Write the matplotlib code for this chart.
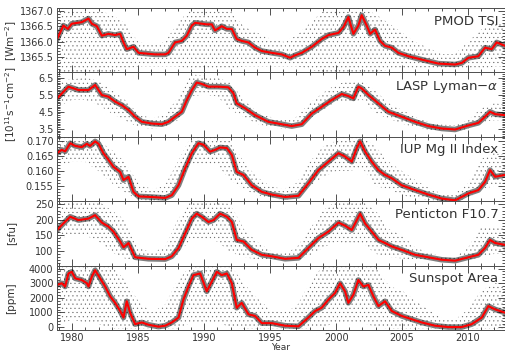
import numpy as np
import matplotlib
matplotlib.use("Agg")
import matplotlib.pyplot as plt
from matplotlib.ticker import MultipleLocator, FormatStrFormatter

# Smoothed (red) curves
tsiYears = [1978.86, 1979.34, 1979.67, 1979.97, 1980.73, 1981.24, 1981.49, 1981.87, 1982.25, 1982.75,
	1983.26, 1983.64, 1983.89, 1984.14, 1984.65, 1985.03, 1986.29, 1987.05, 1987.3, 1987.8,
	1988.31, 1988.69, 1989.07, 1989.32, 1990.2, 1990.58, 1990.83, 1991.34, 1991.72, 1992.1,
	1992.47, 1992.85, 1993.36, 1993.86, 1994.37, 1995.13, 1995.88, 1996.52, 1996.89, 1997.4,
	1998.16, 1998.91, 1999.42, 2000.18, 2000.56, 2000.93, 2001.31, 2001.69, 2001.94, 2002.32,
	2002.58, 2002.95, 2003.33, 2003.71, 2004.22, 2004.72, 2005.48, 2006.49, 2007.75, 2009.02,
	2009.52, 2010.03, 2010.78, 2011.29, 2011.79, 2012.17, 2012.8]
tsiValues = [1366.09, 1366.53, 1366.42, 1366.59, 1366.64, 1366.76, 1366.59, 1366.51, 1366.2, 1366.26,
	1366.22, 1366.26, 1365.98, 1365.76, 1365.84, 1365.64, 1365.59, 1365.59, 1365.64, 1365.98,
	1366.03, 1366.2, 1366.53, 1366.62, 1366.57, 1366.57, 1366.37, 1366.51, 1366.42, 1366.42,
	1366.09, 1366.03, 1365.98, 1365.81, 1365.7, 1365.64, 1365.59, 1365.48, 1365.56, 1365.64,
	1365.84, 1366.09, 1366.22, 1366.29, 1366.48, 1366.81, 1366.26, 1366.53, 1366.87, 1366.53,
	1366.26, 1366.4, 1366.03, 1365.87, 1365.81, 1365.64, 1365.53, 1365.42, 1365.29, 1365.26,
	1365.31, 1365.48, 1365.53, 1365.81, 1365.76, 1365.98, 1365.87]

lymanYears = [1978.86, 1979.72, 1980.48, 1981.24, 1981.74, 1982.25, 1982.75, 1983.26, 1983.76, 1984.27,
	1984.77, 1985.28, 1986.04, 1986.79, 1987.3, 1987.8, 1988.31, 1988.69, 1989.07, 1989.44,
	1989.82, 1990.33, 1991.09, 1991.84, 1992.22, 1992.47, 1993.11, 1993.86, 1994.87, 1995.88,
	1996.64, 1997.4, 1998.16, 1998.91, 1999.67, 2000.43, 2000.93, 2001.31, 2001.69, 2001.94,
	2002.45, 2003.21, 2003.96, 2004.97, 2005.98, 2006.99, 2008.0, 2009.02, 2010.03, 2010.78,
	2011.29, 2011.67, 2012.05, 2012.8]
lymanValues = [5.28, 5.97, 5.77, 5.77, 6.07, 5.48, 5.38, 5.09, 4.89, 4.60,
	4.21, 3.91, 3.81, 3.77, 3.91, 4.21, 4.5, 5.19, 5.77, 6.21,
	6.13, 5.97, 5.97, 5.93, 5.58, 4.99, 4.7, 4.3, 3.91, 3.77,
	3.66, 3.77, 4.4, 4.79, 5.19, 5.54, 5.42, 5.28, 5.97, 5.87,
	5.48, 4.99, 4.5, 4.21, 3.91, 3.66, 3.52, 3.46, 3.70, 3.85,
	4.21, 4.5, 4.36, 4.30]

mgYears = [1978.86, 1979.21, 1979.47, 1979.85, 1980.23, 1980.73, 1981.11, 1981.36, 1981.74, 1982.0,
	1982.37, 1982.75, 1983.13, 1983.64, 1983.89, 1984.27, 1984.65, 1985.03, 1986.04, 1987.05,
	1987.55, 1988.06, 1988.56, 1989.07, 1989.57, 1989.95, 1990.45, 1990.83, 1991.21, 1991.72,
	1992.1, 1992.47, 1992.98, 1993.61, 1994.37, 1995.13, 1996.14, 1997.15, 1997.9, 1998.66,
	1999.42, 2000.18, 2000.68, 2001.19, 2001.57, 2001.82, 2002.2, 2002.7, 2003.21, 2003.71,
	2004.22, 2004.97, 2005.98, 2006.99, 2008.0, 2009.02, 2010.03, 2010.78, 2011.29, 2011.67,
	2012.05, 2012.8]
mgValues = [0.1659, 0.1670, 0.1665, 0.1692, 0.1683, 0.1679, 0.1690, 0.1683, 0.1698, 0.1690,
	0.1659, 0.1637, 0.1614, 0.1597, 0.1570, 0.1581, 0.1531, 0.1516, 0.1514, 0.1511,
	0.1520, 0.1553, 0.1609, 0.1659, 0.1692, 0.1687, 0.1664, 0.1670, 0.1678, 0.1676,
	0.1653, 0.1597, 0.1587, 0.1553, 0.1531, 0.1522, 0.1514, 0.1518, 0.1559, 0.1603,
	0.1631, 0.1659, 0.1648, 0.1631, 0.1676, 0.1698, 0.1664, 0.1631, 0.1603, 0.1587,
	0.1576, 0.1553, 0.1537, 0.1522, 0.1509, 0.1503, 0.1526, 0.1537, 0.1564, 0.1603,
	0.1581, 0.1587]

f107Years = [1978.86, 1979.21, 1979.85, 1980.48, 1981.24, 1981.74, 1982.25, 1982.75, 1983.13, 1983.64,
	1983.89, 1984.27, 1984.77, 1985.78, 1987.05, 1987.55, 1988.06, 1988.56, 1989.07, 1989.44,
	1989.82, 1990.33, 1990.71, 1991.21, 1991.72, 1992.1, 1992.47, 1992.98, 1993.61, 1994.37,
	1995.13, 1996.14, 1997.15, 1997.9, 1998.66, 1999.42, 2000.18, 2000.68, 2001.19, 2001.44,
	2001.82, 2002.2, 2002.7, 2003.21, 2003.71, 2004.22, 2004.97, 2005.98, 2006.99, 2008.0,
	2009.02, 2010.03, 2010.78, 2011.29, 2011.67, 2012.05, 2012.8]
f107Values = [167, 183, 210, 199, 204, 215, 191, 178, 162, 130,
	111, 125, 79, 74, 73, 82, 109, 156, 204, 220,
	210, 193, 199, 220, 210, 193, 135, 130, 103, 87,
	82, 74, 77, 109, 141, 162, 191, 181, 167, 188,
	220, 188, 162, 135, 125, 114, 103, 87, 79, 71,
	68, 79, 87, 109, 135, 125, 119]

spotYears = [1978.86, 1979.21, 1979.47, 1979.72, 1979.97, 1980.23, 1980.73, 1981.11, 1981.24, 1981.49,
	1981.74, 1982.12, 1982.5, 1982.88, 1983.26, 1983.64, 1983.89, 1984.14, 1984.39, 1984.77,
	1985.28, 1985.78, 1986.54, 1987.05, 1987.55, 1988.06, 1988.43, 1988.81, 1989.19, 1989.7,
	1990.2, 1990.58, 1990.96, 1991.34, 1991.72, 1992.1, 1992.47, 1992.85, 1993.36, 1993.86,
	1994.37, 1995.13, 1996.14, 1997.15, 1997.9, 1998.41, 1998.91, 1999.42, 1999.92, 2000.3,
	2000.68, 2000.93, 2001.31, 2001.69, 2002.07, 2002.45, 2002.83, 2003.21, 2003.71, 2004.22,
	2004.97, 2005.73, 2006.49, 2007.5, 2008.51, 2009.52, 2010.28, 2011.04, 2011.54, 2012.05,
	2012.8]
spotValues = [2881, 2995, 2770, 3665, 3776, 3330, 3216, 3000, 2770, 3440,
	3886, 3330, 2770, 2100, 1655, 1096, 650, 1766, 985, 200,
	315, 160, 27, 94, 315, 650, 1876, 2770, 3551, 3665,
	2439, 3109, 3776, 3551, 3665, 2995, 1320, 1655, 871, 763,
	268, 268, 94, 50, 650, 1096, 1320, 1876, 2325, 2995,
	2439, 1655, 2211, 3216, 2770, 2881, 2100, 1434, 1766, 1096,
	763, 536, 315, 94, 0, 0, 200, 650, 1434, 1210,
	985]

# Spread of the daily values (upper / lower edge of the dot cloud), one value per year
envYears = list(range(1979, 2014))
tsiHigh = [1367.1, 1367.1, 1367.1, 1367.0, 1366.9, 1366.6, 1366.0, 1365.9, 1366.0, 1366.6,
	1367.1, 1367.1, 1367.1, 1367.0, 1366.5, 1366.3, 1366.1, 1366.0, 1366.2, 1366.6,
	1367.0, 1367.1, 1367.1, 1367.1, 1366.9, 1366.6, 1366.3, 1366.0, 1365.8, 1365.6,
	1365.6, 1366.0, 1366.4, 1366.6, 1366.6]
tsiLow = [1365.0, 1365.0, 1365.0, 1365.0, 1365.0, 1365.1, 1365.2, 1365.2, 1365.2, 1365.2,
	1365.1, 1365.1, 1365.1, 1365.1, 1365.2, 1365.2, 1365.2, 1365.2, 1365.2, 1365.1,
	1365.0, 1365.0, 1365.0, 1365.0, 1365.0, 1365.1, 1365.1, 1365.1, 1365.1, 1365.1,
	1365.1, 1365.1, 1365.1, 1365.2, 1365.2]
lymanHigh = [6.3, 6.4, 6.5, 6.3, 5.8, 5.2, 4.4, 4.1, 4.3, 5.3,
	6.7, 6.6, 6.5, 6.2, 5.2, 4.5, 4.2, 4.0, 4.2, 5.0,
	5.6, 6.1, 6.3, 6.3, 5.7, 5.0, 4.6, 4.2, 3.9, 3.75,
	3.7, 4.0, 4.7, 5.0, 4.9]
lymanLow = [4.8, 5.2, 5.2, 4.9, 4.4, 4.0, 3.6, 3.5, 3.6, 4.0,
	5.4, 5.5, 5.4, 4.6, 4.2, 3.8, 3.6, 3.5, 3.6, 4.1,
	4.6, 5.1, 5.1, 5.2, 4.4, 4.1, 3.8, 3.6, 3.45, 3.35,
	3.35, 3.5, 3.9, 4.0, 4.0]
mgHigh = [0.1713, 0.1713, 0.1713, 0.1700, 0.1670, 0.1630, 0.1560, 0.1540, 0.1550, 0.1630,
	0.1713, 0.1713, 0.1713, 0.1700, 0.1630, 0.1580, 0.1550, 0.1540, 0.1560, 0.1630,
	0.1680, 0.1700, 0.1713, 0.1713, 0.1680, 0.1630, 0.1600, 0.1570, 0.1545, 0.1525,
	0.1525, 0.1560, 0.1640, 0.1660, 0.1650]
mgLow = [0.162, 0.163, 0.163, 0.160, 0.156, 0.153, 0.1505, 0.1502, 0.1505, 0.154,
	0.162, 0.162, 0.162, 0.157, 0.154, 0.152, 0.151, 0.1505, 0.151, 0.155,
	0.158, 0.160, 0.160, 0.161, 0.155, 0.154, 0.152, 0.151, 0.1505, 0.1500,
	0.1500, 0.151, 0.154, 0.155, 0.155]
f107High = [260, 260, 260, 260, 230, 200, 110, 95, 110, 200,
	260, 260, 260, 250, 170, 130, 100, 90, 110, 170,
	230, 260, 260, 260, 230, 170, 150, 110, 95, 80,
	80, 110, 180, 180, 170]
f107Low = [140, 150, 150, 130, 95, 75, 68, 67, 68, 85,
	140, 140, 130, 95, 80, 72, 68, 67, 68, 85,
	110, 130, 120, 125, 90, 80, 75, 70, 67, 65,
	65, 70, 80, 90, 90]
spotHigh = [4200, 4200, 4200, 4200, 4200, 3200, 1800, 1000, 1500, 3200,
	4200, 4200, 4200, 4200, 3000, 2000, 1200, 1000, 1400, 3000,
	4200, 4200, 4200, 4200, 4200, 2800, 2500, 1800, 1200, 600,
	500, 1200, 2500, 3000, 3000]
spotLow = [200, 500, 300, 200, -100, -100, -100, -100, -100, -100,
	300, 300, 300, 0, -100, -100, -100, -100, -100, -100,
	0, 300, 200, 300, 0, -100, -100, -100, -100, -100,
	-100, -100, -100, -100, -100]

titles = ['PMOD TSI', 'LASP Lyman\u2212$\\alpha$', 'IUP Mg II Index', 'Penticton F10.7', 'Sunspot Area']
units = ['[Wm$^{-2}$]', '[10$^{11}$s$^{-1}$cm$^{-2}$]', '', '[sfu]', '[ppm]']
yLimits = [(1365.0, 1367.1), (3.03, 6.8), (0.150, 0.1713), (52, 260), (-200, 4200)]
yMinor = [0.1, 0.1, 0.001, 10, 200]
yFormats = ['%.1f', '%.1f', '%.3f', '%d', '%d']
yTicks = [[1365.5, 1366.0, 1366.5, 1367.0], [3.5, 4.5, 5.5, 6.5],
	[0.155, 0.160, 0.165, 0.170], [100, 150, 200, 250], [0, 1000, 2000, 3000, 4000]]


def main():
	curves = [(tsiYears, tsiValues), (lymanYears, lymanValues), (mgYears, mgValues),
		(f107Years, f107Values), (spotYears, spotValues)]
	spreads = [(tsiLow, tsiHigh), (lymanLow, lymanHigh), (mgLow, mgHigh),
		(f107Low, f107High), (spotLow, spotHigh)]

	plt.rcParams['hatch.linewidth'] = 0.3
	fig, axes = plt.subplots(5, 1, sharex=True, figsize=(5.06, 3.52), dpi=100)
	fig.subplots_adjust(left=0.1126, right=0.998, top=0.977, bottom=0.0625, hspace=0)

	textColor = '#333333'
	for i, ax in enumerate(axes):
		lo, hi = spreads[i]
		ax.fill_between(envYears, lo, hi, facecolor='none', edgecolor='0.4',
			hatch='....', linewidth=0)
		years, values = curves[i]
		ax.plot(years, values, color='black', lw=4, alpha=0.5)
		ax.plot(years, values, color='red', lw=1.5)

		ax.set_ylim(*yLimits[i])
		ax.set_yticks(yTicks[i])
		ax.yaxis.set_minor_locator(MultipleLocator(yMinor[i]))
		ax.yaxis.set_major_formatter(FormatStrFormatter(yFormats[i]))
		ax.xaxis.set_major_locator(MultipleLocator(5))
		ax.xaxis.set_minor_locator(MultipleLocator(1))
		ax.tick_params(which='both', direction='in', top=True, right=True,
			labelsize=7, labelcolor=textColor, color='0.2', width=0.6, pad=2.5)
		ax.tick_params(which='major', length=5)
		ax.tick_params(which='minor', length=2.5)
		for s in ax.spines.values():
			s.set_linewidth(0.7)
			s.set_color('0.3')

		ax.text(0.985, 0.9, titles[i], transform=ax.transAxes, ha='right', va='top',
			fontsize=9.5, color=textColor)
		if units[i]:
			pos = ax.get_position()
			fig.text(11 / 506, (pos.y0 + pos.y1) / 2, units[i], rotation=90,
				ha='center', va='center', fontsize=7.5, color=textColor)

	axes[-1].set_xlim(1978.85, 2012.8)
	fig.text(0.555, 0.012, 'Year', ha='center', va='center', fontsize=6.5, color=textColor)

	fig.savefig('out.png', dpi=100)


if __name__ == "__main__":
	main()
